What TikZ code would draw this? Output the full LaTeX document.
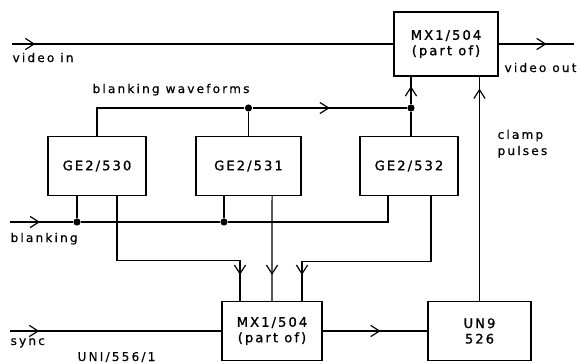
\documentclass[tikz,border=0pt]{standalone}
\usepackage{fontspec}
\setmainfont{DejaVu Sans}
\newfontfamily\labelfont[LetterSpace=18, FakeBold=0.5]{DejaVu Sans}
\newfontfamily\boxfont[LetterSpace=16, FakeBold=1.2]{DejaVu Sans}
\usetikzlibrary{arrows.meta, decorations.markings}

\begin{document}
\begin{tikzpicture}[x=0.25mm, y=-0.25mm, line width=0.85pt,
        barb/.tip={Straight Barb[length=2.2mm, width=2.8mm]},
        unitbox/.style={rectangle, draw, minimum height=14.75mm, inner sep=0pt, align=center, font=\boxfont\fontsize{9.3}{11}\selectfont},
        junction/.style={circle, fill, minimum size=1.8mm, inner sep=0pt},
        lbl/.style={inner sep=0pt, anchor=base west, align=left, font=\labelfont\fontsize{8.6}{11.5}\selectfont},
        midarrow/.style={postaction={decorate}, decoration={markings, mark=at position #1 with {\arrow{barb}}}}]
        \useasboundingbox (0,0) rectangle (579,363);
        % ---- units ----
        \node[unitbox, minimum width=26mm, minimum height=16mm] (mxtop) at (446,44) {MX1/504\\(part of)};
        \node[unitbox, minimum width=24.5mm] (ge0) at (97,166)    {GE2/530};
        \node[unitbox, minimum width=26.25mm] (ge1) at (248.5,166) {GE2/531};
        \node[unitbox, minimum width=24.5mm] (ge2) at (409,166)   {GE2/532};
        \node[unitbox, minimum width=25mm] (mxbot) at (272,331)   {MX1/504\\(part of)};
        \node[unitbox, minimum width=25.75mm] (un9) at (479.5,331) {UN9\\526};
        % ---- junctions and free ends ----
        \node[junction] (w1) at (248.5,108) {};
        \node[junction] (w2) at (411,108) {};
        \node[junction] (b0) at (77,222) {};
        \node[junction] (b1) at (224,222) {};
        \coordinate (vin) at (12,44);
        \coordinate (vout) at (574,44);
        \coordinate (bin) at (10,222);
        \coordinate (sin) at (10,331);
        % ---- labels ----
        \node[lbl] (vinlbl) at (12,62) {video in};
        \node[lbl] (voutlbl) at (504,72) {video out};
        \node[lbl] (wavelbl) at (92,93) {blanking waveforms};
        \node[lbl] (clamplbl) at (497,155) {clamp\\pulses};
        \node[lbl] (blanklbl) at (10,242) {blanking};
        \node[lbl] (synclbl) at (10,345) {sync};
        \node[lbl] (reflbl) at (77,361) {UNI/556/1};
        % ---- video path ----
        \draw[midarrow=5.8mm] (vin) -- (mxtop.west);
        \draw[midarrow=12mm] (mxtop.east) -- (vout);
        % ---- blanking waveforms ----
        \draw (ge0.north) |- (w1);
        \draw[midarrow=0.5] (w1) -- (w2);
        \draw (w1) -- (ge1.north);
        \draw (w2) -- (w2 |- ge2.north);
        \draw[midarrow=-2.4mm] (w2) -- (w2 |- mxtop.south);
        % ---- blanking input ----
        \draw[midarrow=7.5mm] (bin) -- (b0);
        \draw (b0) -- (b1) -| ([xshift=-5.25mm]ge2.south);
        \draw (b0 |- ge0.south) -- (b0);
        \draw (b1 |- ge1.south) -- (b1);
        % ---- generators -> lower MX ----
        \draw[midarrow=-6.5mm] ([xshift=5mm]ge0.south) -- ++(0,64) -| ([xshift=-8mm]mxbot.north);
        \draw[midarrow=-6.5mm] ([xshift=5.9mm]ge1.south) -- (mxbot.north);
        \draw[midarrow=-6.5mm] ([xshift=5.5mm]ge2.south) -- ++(0,65) -| ([xshift=7.5mm]mxbot.north);
        % ---- sync and clamp ----
        \draw[midarrow=7.3mm] (sin) -- (mxbot.west);
        \draw[midarrow=14.5mm] (mxbot.east) -- (un9.west);
        \draw[midarrow=-3mm] (un9.north) -- (un9.north |- mxtop.south);
    \end{tikzpicture}
\end{document}
